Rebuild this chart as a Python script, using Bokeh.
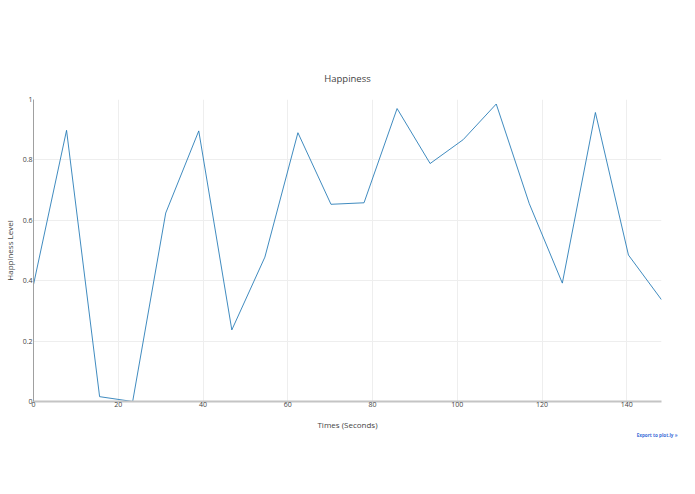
from bokeh.plotting import figure
from bokeh.models import FixedTicker, Range1d, Title, ColumnDataSource
from bokeh.embed import file_html
from bokeh.resources import INLINE

# Data
times = [0, 7.8, 15.6, 23.4, 31.2, 39.0, 46.8, 54.6, 62.4, 70.2,
         78.0, 85.8, 93.6, 101.4, 109.2, 117.0, 124.8, 132.6, 140.4, 148.2]
happiness = [0.387, 0.898, 0.016, 0.0, 0.624, 0.896, 0.237, 0.478, 0.890, 0.653,
             0.658, 0.970, 0.788, 0.867, 0.985, 0.655, 0.392, 0.957, 0.485, 0.337]
x_ticks = [0, 20, 40, 60, 80, 100, 120, 140]
y_ticks = [0, 0.2, 0.4, 0.6, 0.8, 1]
y_tick_labels = ["0", "0.2", "0.4", "0.6", "0.8", "1"]

FONT = "Open Sans"
TXT = "#444444"

p = figure(width=679, height=478, output_backend="svg", toolbar_location=None,
           x_range=Range1d(times[0], times[-1]), y_range=Range1d(0, 1),
           min_border_left=32, min_border_right=18, min_border_top=99, min_border_bottom=77,
           title="Happiness")
p.outline_line_color = None
p.background_fill_color = "white"
p.border_fill_color = "white"

p.title.align = "center"
p.title.text_font = FONT
p.title.text_font_size = "9.5px"
p.title.text_font_style = "normal"
p.title.text_color = TXT
p.title.standoff = 30

src = ColumnDataSource(dict(x=times, y=happiness))
p.line("x", "y", source=src, line_color="#1f77b4", line_width=1.0, line_alpha=0.85)

# axes
p.xaxis.ticker = FixedTicker(ticks=x_ticks)
p.yaxis.ticker = FixedTicker(ticks=y_ticks)
p.yaxis.major_label_overrides = {t: l for t, l in zip(y_ticks, y_tick_labels)}
p.xaxis.axis_label = "Times (Seconds)"
p.yaxis.axis_label = "Happiness Level"
for ax in (p.xaxis, p.yaxis):
    ax.major_tick_line_color = None
    ax.major_tick_out = 0
    ax.major_tick_in = 0
    ax.minor_tick_line_color = None
    ax.minor_tick_out = 0
    ax.major_label_text_font = FONT
    ax.major_label_text_font_size = "7px"
    ax.major_label_text_color = TXT
    ax.axis_label_text_font = FONT
    ax.axis_label_text_font_size = "8px"
    ax.axis_label_text_font_style = "normal"
    ax.axis_label_text_color = TXT
p.xaxis.axis_line_color = "#c4c4c4"
p.xaxis.axis_line_width = 2
p.yaxis.axis_line_color = "#a0a0a0"
p.yaxis.axis_line_width = 1
p.xaxis.major_label_standoff = 0
p.xaxis.axis_label_standoff = 9
p.yaxis.major_label_standoff = 1
p.yaxis.axis_label_standoff = 5

p.xgrid.grid_line_color = "#eeeeee"
p.ygrid.grid_line_color = "#eeeeee"

export = Title(text="Export to plot.ly »", align="right", offset=-16, standoff=-11,
               text_font=FONT, text_font_size="4.6px", text_font_style="bold",
               text_color="#3d6fd8")
p.add_layout(export, "below")

open("out.html", "w").write(file_html(p, INLINE))
